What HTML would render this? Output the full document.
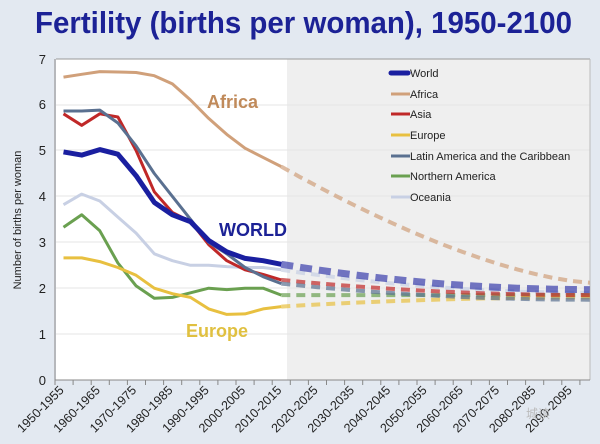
<!DOCTYPE html>
<html><head><meta charset="utf-8"><style>
html,body{margin:0;padding:0;width:600px;height:444px;overflow:hidden;background:#e3e9f1;}
svg{display:block;font-family:"Liberation Sans",sans-serif;}
</style></head><body>
<svg id="s" width="600" height="444" viewBox="0 0 600 444" xmlns="http://www.w3.org/2000/svg">
<rect width="600" height="444" fill="#e3e9f1"/>
<text x="35" y="33" font-size="31" font-weight="bold" fill="#1c2296" textLength="537" lengthAdjust="spacingAndGlyphs">Fertility (births per woman), 1950-2100</text>
<rect x="56" y="59" width="231" height="321" fill="#ffffff"/>
<rect x="287" y="59" width="303" height="321" fill="#efefef"/>
<g stroke="#e6e6e6" stroke-width="1">
<line x1="56" y1="334" x2="590" y2="334"/><line x1="56" y1="288" x2="590" y2="288"/>
<line x1="56" y1="242" x2="590" y2="242"/><line x1="56" y1="196" x2="590" y2="196"/>
<line x1="56" y1="150" x2="590" y2="150"/><line x1="56" y1="105" x2="590" y2="105"/>
</g>
<line x1="56" y1="59" x2="590" y2="59" stroke="#999" stroke-width="1"/>
<line x1="590" y1="59" x2="590" y2="380" stroke="#bbb" stroke-width="1"/>
<line x1="55" y1="59" x2="55" y2="380" stroke="#888" stroke-width="1"/>
<line x1="55" y1="380" x2="590" y2="380" stroke="#888" stroke-width="1"/>
<g id="ticks"></g>
<g font-size="13" fill="#222" text-anchor="end">
<text x="46" y="385">0</text><text x="46" y="339">1</text><text x="46" y="293">2</text><text x="46" y="247">3</text><text x="46" y="201">4</text><text x="46" y="155">5</text><text x="46" y="109">6</text><text x="46" y="64">7</text>
</g>
<text transform="translate(21,220) rotate(-90)" font-size="11" fill="#222" text-anchor="middle">Number of births per woman</text>
<g id="series"></g>
<g id="xl" font-size="12.5" fill="#222"></g>
<text x="207" y="108" font-size="18" font-weight="bold" fill="#c08a5a">Africa</text>
<text x="219" y="236" font-size="18" font-weight="bold" fill="#1c2296">WORLD</text>
<text x="186" y="337" font-size="18" font-weight="bold" fill="#e0c040">Europe</text>
<g font-size="11" fill="#222">
<line x1="391" y1="73" x2="408" y2="73" stroke="#1a1fa0" stroke-width="5" stroke-linecap="round"/><text x="410" y="77">World</text>
<line x1="391" y1="94" x2="410" y2="94" stroke="#d0a07a" stroke-width="3"/><text x="410" y="98">Africa</text>
<line x1="391" y1="114" x2="410" y2="114" stroke="#c02828" stroke-width="3"/><text x="410" y="118">Asia</text>
<line x1="391" y1="135" x2="410" y2="135" stroke="#e8c040" stroke-width="3"/><text x="410" y="139">Europe</text>
<line x1="391" y1="156" x2="410" y2="156" stroke="#5a7090" stroke-width="3"/><text x="410" y="160">Latin America and the Caribbean</text>
<line x1="391" y1="176" x2="410" y2="176" stroke="#6aa050" stroke-width="3"/><text x="410" y="180">Northern America</text>
<line x1="391" y1="197" x2="410" y2="197" stroke="#c8d0e4" stroke-width="3"/><text x="410" y="201">Oceania</text>
</g>
<text x="526" y="418" font-size="12" fill="#bbb" font-family="'Liberation Sans','Noto Sans CJK SC',sans-serif">城读</text>
</svg>
<script>
var NS="http://www.w3.org/2000/svg";
function X(i){return 63.5+i*18.15;}
function Y(v){return 380-v*45.9;}
function el(t,a,p){var e=document.createElementNS(NS,t);for(var k in a)e.setAttribute(k,a[k]);p.appendChild(e);return e;}
var ticks=document.getElementById('ticks');
for(var i=0;i<=29;i++){var x=55+i*18.1;el('line',{x1:x,y1:380,x2:x,y2:385,stroke:'#888'},ticks);}
var xl=document.getElementById('xl');
for(var i=0;i<15;i++){var yr=1950+i*10;var cx=X(i*2)+1;
 var t=el('text',{transform:'translate('+cx+',391) rotate(-45)','text-anchor':'end'},xl);t.textContent=yr+'-'+(yr+5);}
var S=[
 ['#c8d0e4',3,[3.82,4.05,3.9,3.55,3.2,2.75,2.6,2.5,2.5,2.47,2.45,2.45,2.4],1.9],
 ['#6aa050',3,[3.33,3.6,3.25,2.55,2.05,1.78,1.8,1.9,2.0,1.97,2.0,2.0,1.85],1.85],
 ['#e8c040',3,[2.66,2.66,2.58,2.45,2.28,2.0,1.88,1.8,1.55,1.43,1.44,1.55,1.6],1.8],
 ['#d0a07a',3,[6.6,6.66,6.72,6.71,6.7,6.63,6.45,6.1,5.7,5.35,5.05,4.85,4.65],2.12],
 ['#c02828',3,[5.8,5.55,5.8,5.73,5.0,4.1,3.65,3.45,2.95,2.6,2.4,2.3,2.18],1.85],
 ['#5a7090',3,[5.86,5.86,5.88,5.6,5.1,4.5,4.0,3.5,3.0,2.75,2.45,2.25,2.1],1.75],
 ['#1a1fa0',5,[4.97,4.9,5.02,4.92,4.45,3.87,3.6,3.45,3.04,2.79,2.65,2.6,2.52],1.97]
];
var g=document.getElementById('series');
S.forEach(function(s){
 var d='';s[2].forEach(function(v,i){d+=(i?'L':'M')+X(i).toFixed(1)+','+Y(v).toFixed(1);});
 el('path',{d:d,fill:'none',stroke:s[0],'stroke-width':s[1],'stroke-linejoin':'round'},g);
 var v0=s[2][12],v1=s[3],pd='M'+X(12).toFixed(1)+','+Y(v0).toFixed(1);
 for(var i=13;i<=29;i++){var f=(i-12)/17;var ff=(s[0]=='#d0a07a')?(1-Math.pow(1-f,1.5)):(1-Math.pow(1-f,2));
  var v=v0+(v1-v0)*ff;pd+='L'+X(i).toFixed(1)+','+Y(v).toFixed(1);}
 var w=(s[0]=='#1a1fa0')?7:s[1]+1;
 el('path',{d:pd,fill:'none',stroke:s[0],'stroke-width':w,'stroke-dasharray':(s[0]=='#1a1fa0'?'12,7':'9,6'),'opacity':(s[0]=='#1a1fa0'?0.6:0.7)},g);
});
</script>
</body></html>
